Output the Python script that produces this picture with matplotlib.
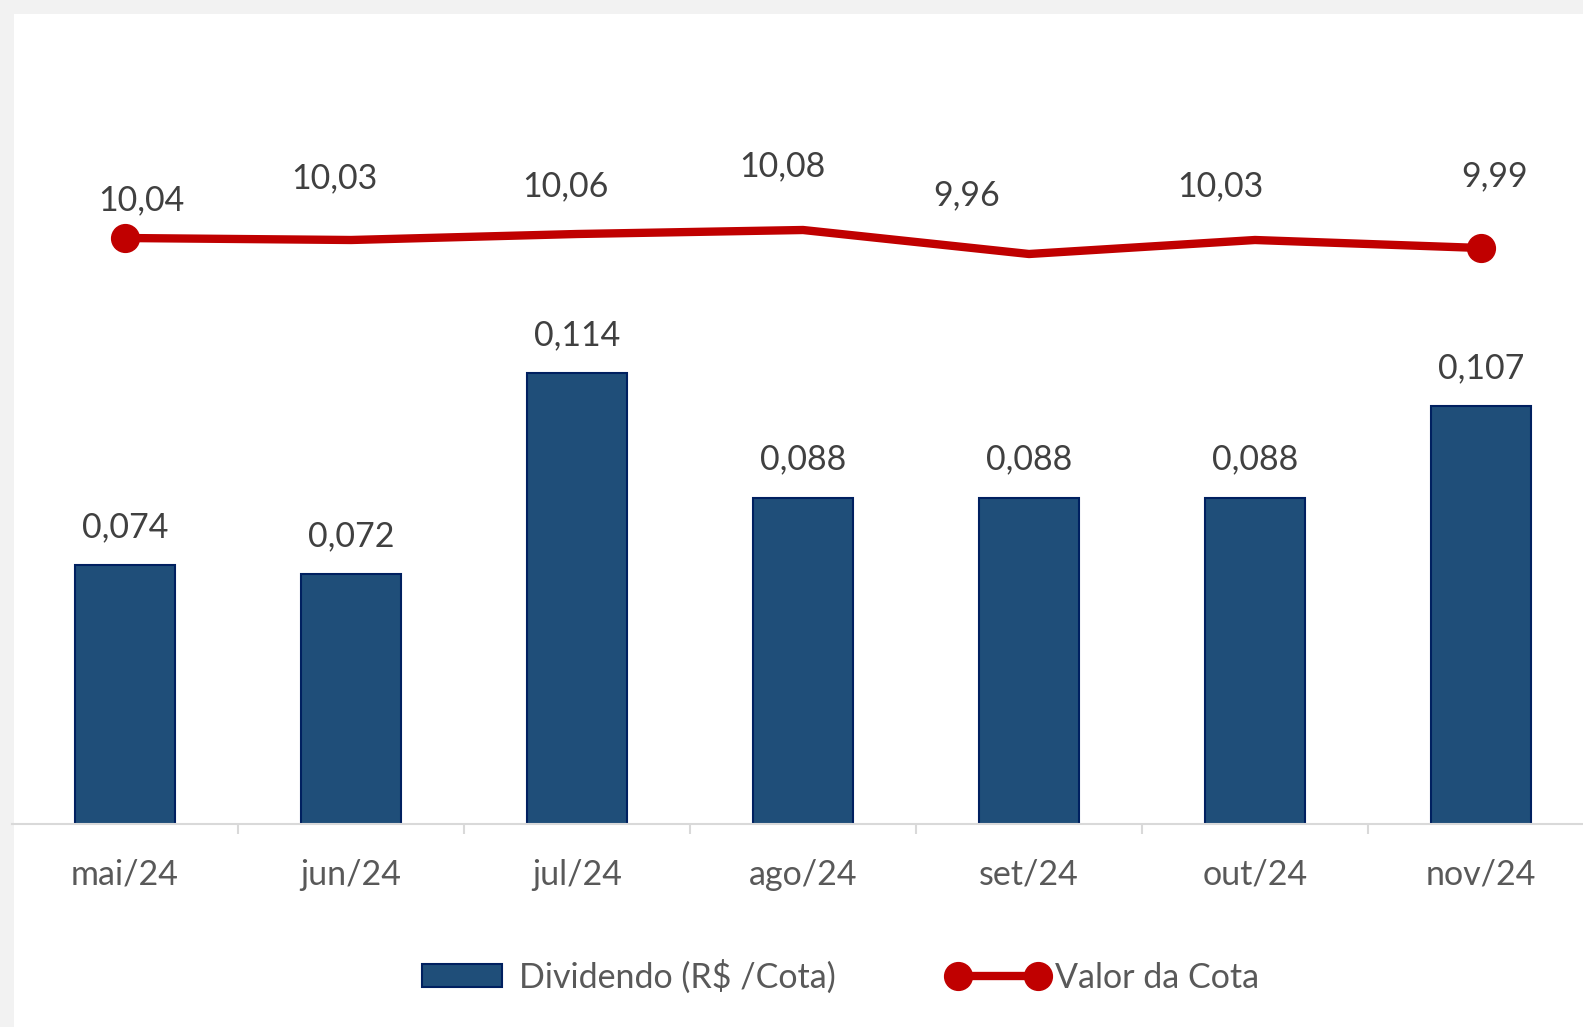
import numpy as np
import matplotlib
matplotlib.use("Agg")
import matplotlib.pyplot as plt
from matplotlib.patches import Rectangle, Patch
from matplotlib.lines import Line2D
from matplotlib.legend_handler import HandlerLine2D

plt.rcParams["font.family"] = ["Lato", "DejaVu Sans"]

# monthly data
months = ["mai/24", "jun/24", "jul/24", "ago/24", "set/24", "out/24", "nov/24"]
dividendo = [0.074, 0.072, 0.114, 0.088, 0.088, 0.088, 0.107]
valor_cota = [10.04, 10.03, 10.06, 10.08, 9.96, 10.03, 9.99]

# nudges for the line labels (pixels)
cota_label_offsets = [(16, 38), (-17, 62), (-12, 48), (-21, 64), (-62, 59), (-35, 54), (14, 72)]

bar_fill = "#1F4E79"
bar_edge = "#002060"
line_red = "#C00000"
txt_dark = "#404040"
txt_mid = "#595959"
axis_gray = "#D9D9D9"
fs = 24.5

W, H = 1583, 1027
fig = plt.figure(figsize=(W / 100, H / 100), dpi=100, facecolor="#F2F2F2")
fig.add_artist(Rectangle((14 / W, 0), 1, (H - 14) / H, transform=fig.transFigure,
                         facecolor="white", edgecolor="none", zorder=0))

ax = fig.add_axes([12 / W, (H - 824) / H, 1582 / W, 794 / H])
ax.set_facecolor("none")
x = np.arange(len(months))

bars = ax.bar(x, dividendo, width=0.44, bottom=0, color=bar_fill,
              edgecolor=bar_edge, linewidth=1.5, zorder=2)
ax.set_ylim(0.02, 0.02 + 794 / 4800)
ax.set_xlim(-0.5, len(months) - 0.5)

for xi, v in zip(x, dividendo):
    ax.annotate(f"{v:.3f}".replace(".", ","), (xi, v), xytext=(0, 38),
                textcoords="offset pixels", ha="center", va="center",
                fontsize=fs, color=txt_dark)

ax.set_xticks(x)
ax.set_xticklabels(months, fontsize=fs, color=txt_mid)
ax.set_xticks(x[:-1] + 0.5, minor=True)
ax.tick_params(axis="x", which="major", length=0, pad=25)
ax.tick_params(axis="x", which="minor", length=7.5, width=1.5, color=axis_gray, direction="out")
ax.set_yticks([])
for side in ["top", "left", "right"]:
    ax.spines[side].set_visible(False)
ax.spines["bottom"].set_color(axis_gray)
ax.spines["bottom"].set_linewidth(1.5)

# share value on secondary axis
ax2 = ax.twinx()
ax2.plot(x, valor_cota, color=line_red, linewidth=6, marker="o", markersize=20,
         markevery=[0, len(x) - 1], solid_capstyle="round", zorder=3)
ax2.set_ylim(7.11, 11.08)
ax2.set_yticks([])
for side in ["top", "left", "right", "bottom"]:
    ax2.spines[side].set_visible(False)

for xi, v, (dx, dy) in zip(x, valor_cota, cota_label_offsets):
    ax2.annotate(f"{v:.2f}".replace(".", ","), (xi, v), xytext=(dx, dy),
                 textcoords="offset pixels", ha="center", va="center",
                 fontsize=fs, color=txt_dark)

bar_handle = Patch(facecolor=bar_fill, edgecolor=bar_edge, linewidth=1.5)
line_handle = Line2D([], [], color=line_red, linewidth=6, marker="o", markersize=20)
fig.legend([bar_handle, line_handle], ["Dividendo (R$ /Cota)", "Valor da Cota"],
           handler_map={line_handle: HandlerLine2D(marker_pad=0, numpoints=2)},
           loc="center", bbox_to_anchor=(0.531, 0.049), ncol=2, frameon=False,
           fontsize=fs, labelcolor=txt_mid, handlelength=2.35, handleheight=0.65,
           handletextpad=0.5, columnspacing=3.6)

fig.savefig("out.png", dpi=100, facecolor=fig.get_facecolor())
